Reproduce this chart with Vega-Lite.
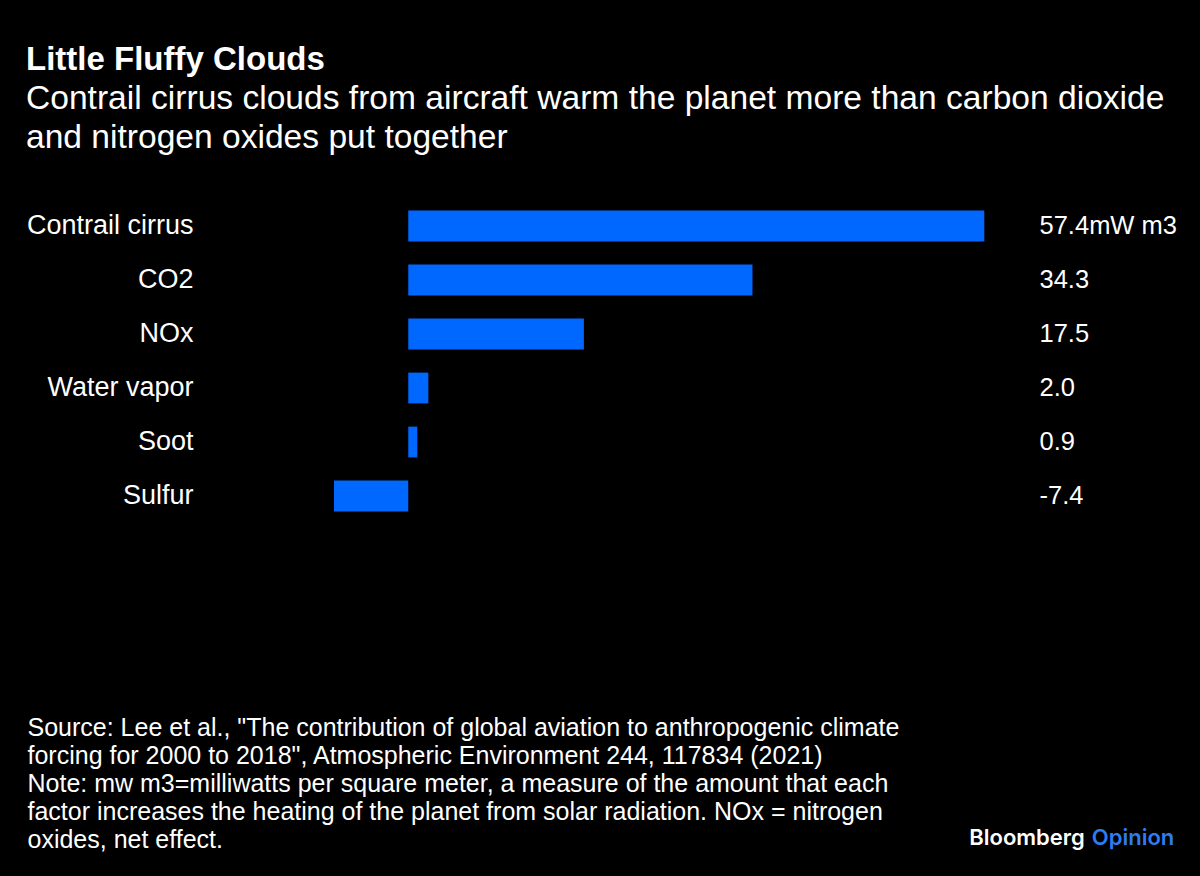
{
  "$schema": "https://vega.github.io/schema/vega-lite/v6.json",
  "autosize": "none",
  "width": 847,
  "height": 324,
  "padding": {"left": 334, "top": 199, "right": 19, "bottom": 353},
  "background": "#000000",
  "title": {
    "text": "Little Fluffy Clouds",
    "subtitle": ["Contrail cirrus clouds from aircraft warm the planet more than carbon dioxide", "and nitrogen oxides put together"],
    "anchor": "start",
    "frame": "group",
    "dx": -308,
    "offset": 44,
    "font": "Liberation Sans",
    "fontSize": 33,
    "fontWeight": "bold",
    "color": "#ffffff",
    "subtitleFont": "Liberation Sans",
    "subtitleFontSize": 33.6,
    "subtitleColor": "#ffffff",
    "subtitleLineHeight": 39,
    "subtitlePadding": 5
  },
  "data": {
    "values": [
      {"factor": "Contrail cirrus", "value": 57.4, "label": "57.4mW m3"},
      {"factor": "CO2", "value": 34.3, "label": "34.3"},
      {"factor": "NOx", "value": 17.5, "label": "17.5"},
      {"factor": "Water vapor", "value": 2.0, "label": "2.0"},
      {"factor": "Soot", "value": 0.9, "label": "0.9"},
      {"factor": "Sulfur", "value": -7.4, "label": "-7.4"}
    ]
  },
  "encoding": {
    "y": {
      "field": "factor",
      "type": "nominal",
      "sort": null,
      "scale": {"paddingInner": 0.43, "paddingOuter": 0.215},
      "axis": {
        "title": null,
        "domain": false,
        "ticks": false,
        "tickSize": 0,
        "labelPadding": 141,
        "labelFont": "Liberation Sans",
        "labelFontSize": 27,
        "labelColor": "#ffffff",
        "labelAlign": "right"
      }
    }
  },
  "layer": [
    {
      "mark": {"type": "bar", "color": "#0068ff"},
      "encoding": {
        "x": {
          "field": "value",
          "type": "quantitative",
          "scale": {"domain": [-7.4, 77], "nice": false, "zero": false},
          "axis": {
            "title": [
              "Source: Lee et al., \"The contribution of global aviation to anthropogenic climate",
              "forcing for 2000 to 2018\", Atmospheric Environment 244, 117834 (2021)",
              "Note: mw m3=milliwatts per square meter, a measure of the amount that each",
              "factor increases the heating of the planet from solar radiation. NOx = nitrogen",
              "oxides, net effect."
            ],
            "titleFont": "Liberation Sans",
            "titleFontSize": 25,
            "titleFontWeight": "normal",
            "titleColor": "#ffffff",
            "titleAnchor": "start",
            "titleAlign": "left",
            "titleBaseline": "top",
            "titleLineHeight": 28,
            "titleX": -307,
            "titleY": 192,
            "values": [67.37, 68.06],
            "labelExpr": "datum.value < 67.7 ? 'Bloomberg' : 'Opinion'",
            "labelAlign": {"condition": {"test": "datum.value < 67.7", "value": "right"}, "value": "left"},
            "labelColor": {"condition": {"test": "datum.value < 67.7", "value": "#ffffff"}, "value": "#2f7cf0"},
            "labelFont": "Inter",
            "labelFontSize": 22,
            "labelFontWeight": 600,
            "labelBaseline": "alphabetic",
            "labelPadding": 321,
            "labelOverlap": false,
            "labelFlush": false,
            "domain": false,
            "ticks": false,
            "tickSize": 0,
            "grid": false
          }
        }
      }
    },
    {
      "mark": {"type": "text", "align": "left", "baseline": "middle", "font": "Liberation Sans", "fontSize": 25.5, "color": "#ffffff"},
      "encoding": {
        "x": {"datum": 62.9, "type": "quantitative"},
        "text": {"field": "label"}
      }
    }
  ],
  "config": {
    "view": {"stroke": null}
  }
}
